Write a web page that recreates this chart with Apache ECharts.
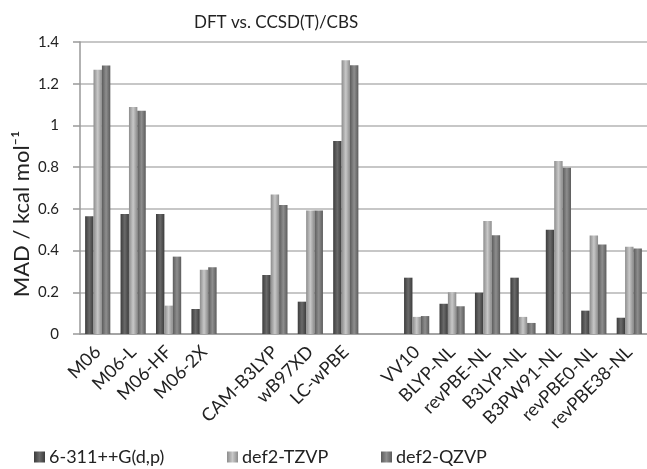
<!DOCTYPE html>
<html>
<head>
<meta charset="utf-8">
<script src="https://cdn.jsdelivr.net/npm/echarts@6/dist/echarts.min.js"></script>
<style>
  html, body { margin: 0; padding: 0; background: #fff; }
  #chart { width: 647px; height: 469px; }
</style>
</head>
<body>
<div id="chart"></div>
<script>
// 泛函名称（空字符串是分组之间的空位）
var categories = ['M06', 'M06-L', 'M06-HF', 'M06-2X', '', 'CAM-B3LYP', 'wB97XD', 'LC-wPBE', '',
    'VV10', 'BLYP-NL', 'revPBE-NL', 'B3LYP-NL', 'B3PW91-NL', 'revPBE0-NL', 'revPBE38-NL'];

var seriesNames = ['6-311++G(d,p)', 'def2-TZVP', 'def2-QZVP'];
var basis631 = [0.565, 0.575, 0.575, 0.12, '-', 0.283, 0.155, 0.925, '-',
    0.27, 0.145, 0.198, 0.27, 0.5, 0.112, 0.078];
var tzvp = [1.267, 1.088, 0.136, 0.308, '-', 0.669, 0.592, 1.312, '-',
    0.082, 0.2, 0.542, 0.082, 0.829, 0.472, 0.418];
var qzvp = [1.287, 1.07, 0.371, 0.32, '-', 0.619, 0.592, 1.288, '-',
    0.086, 0.133, 0.473, 0.053, 0.797, 0.429, 0.41];

var yTicks = { min: 0, max: 1.4, interval: 0.2 };

var font = 'Lato';

// 柱子的圆柱感渐变
function shade(edge, mid) {
    return new echarts.graphic.LinearGradient(0, 0, 1, 0, [
        { offset: 0, color: edge },
        { offset: 0.5, color: mid },
        { offset: 1, color: edge }
    ]);
}

var myChart = echarts.init(document.getElementById('chart'));

function barSeries(name, data, edge, mid) {
    return {
        name: name,
        type: 'bar',
        data: data,
        barWidth: 8.4,
        barGap: '0%',
        itemStyle: { color: shade(edge, mid) },
        emphasis: { disabled: true }
    };
}

// Excel 的图例每项位置不等距，这里分开放
function legendAt(left, name) {
    return {
        left: left,
        top: 443,
        itemWidth: 11,
        itemHeight: 11,
        icon: 'rect',
        textStyle: { fontFamily: font, fontSize: 18, color: '#222', padding: [0, 0, 0, -1] },
        data: [name]
    };
}

const option = {
    backgroundColor: '#fff',
    animation: false,
    title: {
        text: 'DFT vs. CCSD(T)/CBS',
        left: 189,
        top: 9,
        textStyle: { fontFamily: font, fontSize: 17, fontWeight: 'normal', color: '#222' }
    },
    legend: [
        legendAt(29, seriesNames[0]),
        legendAt(222, seriesNames[1]),
        legendAt(376, seriesNames[2])
    ],
    grid: {
        left: 80,
        top: 42,
        width: 576,
        height: 292
    },
    xAxis: {
        type: 'category',
        data: categories,
        axisLine: { lineStyle: { color: '#999', width: 1.5 } },
        axisTick: { show: false },
        axisLabel: {
            rotate: 45,
            interval: 0,
            margin: 15,
            fontFamily: font,
            fontSize: 18,
            color: '#222'
        }
    },
    yAxis: {
        type: 'value',
        min: yTicks.min,
        max: yTicks.max,
        interval: yTicks.interval,
        axisLine: { show: true, lineStyle: { color: '#999', width: 1.5 } },
        axisTick: { show: true, length: 7, lineStyle: { color: '#999', width: 1.5 } },
        axisLabel: { fontFamily: font, fontSize: 15, color: '#222', margin: 21 },
        splitLine: { lineStyle: { color: '#b5b5b5', width: 1.5 } }
    },
    graphic: [{
        type: 'text',
        x: 22,
        y: 214,
        rotation: Math.PI / 2,
        style: {
            text: 'MAD / kcal mol⁻¹',
            font: '22px Lato',
            fill: '#222',
            align: 'center',
            verticalAlign: 'middle'
        }
    }],
    series: [
        barSeries(seriesNames[0], basis631, '#3c3c3c', '#6a6a6a'),
        barSeries(seriesNames[1], tzvp, '#8c8c8c', '#c8c8c8'),
        barSeries(seriesNames[2], qzvp, '#5c5c5c', '#8e8e8e')
    ]
};

myChart.setOption(option);
</script>
</body>
</html>
